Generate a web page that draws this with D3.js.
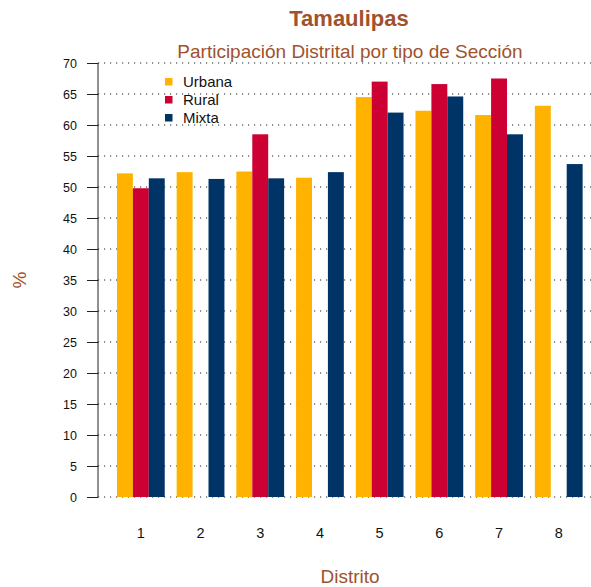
<!DOCTYPE html>
<html>
<head>
<meta charset="utf-8">
<script src="https://cdn.jsdelivr.net/npm/d3@7"></script>
<style>
  body { margin: 0; background: #fff; }
  svg { display: block; font-family: "Liberation Sans", Arial, sans-serif; }
</style>
</head>
<body>
<div id="chart"></div>
<script>
// data
var distritos = ["1", "2", "3", "4", "5", "6", "7", "8"];
var tipos = ["Urbana", "Rural", "Mixta"];
var urbana = [52.2, 52.4, 52.5, 51.5, 64.5, 62.3, 61.6, 63.1];
var rural  = [49.8, null, 58.5, null, 67.0, 66.6, 67.5, null];
var mixta  = [51.4, 51.3, 51.4, 52.4, 62.0, 64.6, 58.5, 53.7];
var yTicks = [0, 5, 10, 15, 20, 25, 30, 35, 40, 45, 50, 55, 60, 65, 70];
var colores = ["#FFB300", "#CC0033", "#003366"];

var W = 591, H = 587,
    titleColor = "#A0522D";

var rows = distritos.map(function (d, i) {
    return {distrito: d, values: [urbana[i], rural[i], mixta[i]]};
});

var svg = d3.select("#chart").append("svg")
    .attr("width", W).attr("height", H);

var x0 = d3.scaleBand().domain(distritos)
    .range([111, 111 + 8 * 59.7]).paddingInner(0.2).paddingOuter(0.1);
var x1 = d3.scaleBand().domain(tipos).range([0, x0.bandwidth()]);
var y = d3.scaleLinear().domain([0, 70]).range([497, 63]);

// grid lines
svg.append("g").selectAll("line").data(yTicks).enter().append("line")
    .attr("x1", 98).attr("x2", W)
    .attr("y1", function (d) { return y(d); })
    .attr("y2", function (d) { return y(d); })
    .attr("stroke", "#222").attr("stroke-width", 1)
    .attr("stroke-dasharray", "1.2,4.8");

// bars
var grp = svg.append("g").selectAll("g").data(rows).enter().append("g")
    .attr("transform", function (d) { return "translate(" + x0(d.distrito) + ",0)"; });
grp.selectAll("rect")
    .data(function (d) {
        return d.values.map(function (v, j) { return {tipo: tipos[j], v: v, c: colores[j]}; })
            .filter(function (e) { return e.v != null; });
    })
    .enter().append("rect")
    .attr("x", function (d) { return x1(d.tipo); })
    .attr("width", x1.bandwidth())
    .attr("y", function (d) { return y(d.v); })
    .attr("height", function (d) { return y(0) - y(d.v); })
    .attr("fill", function (d) { return d.c; });

// y axis
var yAxis = svg.append("g").attr("transform", "translate(98,0)")
    .call(d3.axisLeft(y).tickValues(yTicks).tickSize(11).tickPadding(10));
yAxis.select(".domain").attr("stroke", "#222").attr("d", "M0," + y(70) + "V" + y(0));
yAxis.selectAll(".tick line").attr("stroke", "#222");
yAxis.selectAll("text").attr("font-size", 12.5).attr("fill", "#111")
    .attr("font-family", "Liberation Sans, Arial, sans-serif");

// x labels
svg.append("g").selectAll("text").data(distritos).enter().append("text")
    .attr("x", function (d) { return x0(d) + x0.bandwidth() / 2; })
    .attr("y", 538)
    .attr("text-anchor", "middle")
    .attr("font-size", 14.5).attr("fill", "#111")
    .text(function (d) { return d; });

// legend
var leg = svg.append("g").selectAll("g").data(tipos).enter().append("g")
    .attr("transform", function (d, i) { return "translate(165," + (78 + i * 18) + ")"; });
leg.append("rect").attr("width", 7.5).attr("height", 7.5)
    .attr("fill", function (d, i) { return colores[i]; });
leg.append("text").attr("x", 18).attr("y", 9)
    .attr("font-size", 15).attr("fill", "#111")
    .text(function (d) { return d; });

// titles
svg.append("text").attr("x", 349).attr("y", 26)
    .attr("text-anchor", "middle").attr("font-size", 22).attr("font-weight", "bold")
    .attr("fill", titleColor).text("Tamaulipas");
svg.append("text").attr("x", 350).attr("y", 58)
    .attr("text-anchor", "middle").attr("font-size", 19)
    .attr("fill", titleColor).text("Participación Distrital por tipo de Sección");
svg.append("text").attr("x", 350).attr("y", 583)
    .attr("text-anchor", "middle").attr("font-size", 19)
    .attr("fill", titleColor).text("Distrito");
svg.append("text")
    .attr("transform", "translate(26,280) rotate(-90)")
    .attr("text-anchor", "middle").attr("font-size", 19)
    .attr("fill", titleColor).text("%");
</script>
</body>
</html>
